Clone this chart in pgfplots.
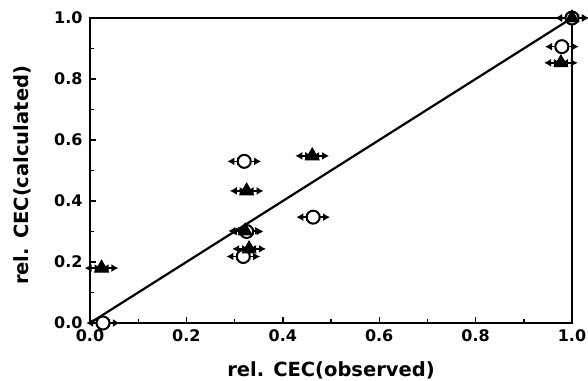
\documentclass[border=0pt]{standalone}
\usepackage{fontspec}
\setmainfont{DejaVu Sans}
\usepackage{pgfplots}
\pgfplotsset{compat=1.18}
\usetikzlibrary{arrows.meta}
\begin{document}
\begin{tikzpicture}
\path[use as bounding box] (-90pt,-57pt) rectangle (498pt,323pt);
\begin{axis}[
  scale only axis, width=482pt, height=305pt,
  at={(0pt,0pt)}, anchor=south west,
  xmin=0, xmax=1, ymin=0, ymax=1,
  clip=false,
  axis line style={line width=2pt},
  xtick={0,0.2,0.4,0.6,0.8,1.0},
  ytick={0,0.2,0.4,0.6,0.8,1.0},
  minor x tick num=1, minor y tick num=1,
  tick align=inside,
  xtick pos=left, ytick pos=left,
  major tick length=6pt, minor tick length=4pt,
  tick style={line width=1.4pt, black},
  xticklabel style={font=\fontsize{16}{18}\selectfont\bfseries, yshift=-3pt},
  yticklabel style={font=\fontsize{16}{18}\selectfont\bfseries, xshift=-4pt},
  /pgf/number format/assume math mode=true,
  /pgf/number format/fixed, /pgf/number format/fixed zerofill, /pgf/number format/precision=1,
  xlabel={rel. CEC(observed)},
  ylabel={rel. CEC(calculated)},
  label style={font=\fontsize{19.5}{22}\selectfont\bfseries},
  xlabel style={at={(axis description cs:0.5,-0.156)}, anchor=center},
  ylabel style={at={(axis description cs:-0.141,0.484)}, anchor=center},
]
\addplot[black, line width=2.2pt] coordinates {(0,0) (1,1)};
\addplot[black, only marks, mark=*, mark size=6.5pt,
  mark options={fill=white, line width=2pt},
  error bars/.cd, x dir=both, x explicit, error mark=none,
  error bar style={line width=1.6pt, {Latex[length=7pt,width=8pt]}-{Latex[length=7pt,width=8pt]}}]
  coordinates {
  (0.027,0.0) +- (0.035,0)
  (0.320,0.530) +- (0.035,0)
  (0.325,0.300) +- (0.035,0)
  (0.318,0.218) +- (0.035,0)
  (0.463,0.347) +- (0.035,0)
  (0.979,0.906) +- (0.035,0)
  (1.0,1.0) +- (0.035,0)
  };
\addplot[black, only marks, mark=triangle*, mark size=8pt,
  mark options={fill=black, line width=0.8pt},
  error bars/.cd, x dir=both, x explicit, error mark=none,
  error bar style={line width=1.6pt, {Latex[length=7pt,width=8pt]}-{Latex[length=7pt,width=8pt]}}]
  coordinates {
  (0.024,0.180) +- (0.035,0)
  (0.325,0.433) +- (0.035,0)
  (0.322,0.302) +- (0.035,0)
  (0.330,0.243) +- (0.035,0)
  (0.461,0.548) +- (0.035,0)
  (0.977,0.853) +- (0.035,0)
  (1.0,1.0) +- (0.035,0)
  };
\end{axis}
\end{tikzpicture}
\end{document}
